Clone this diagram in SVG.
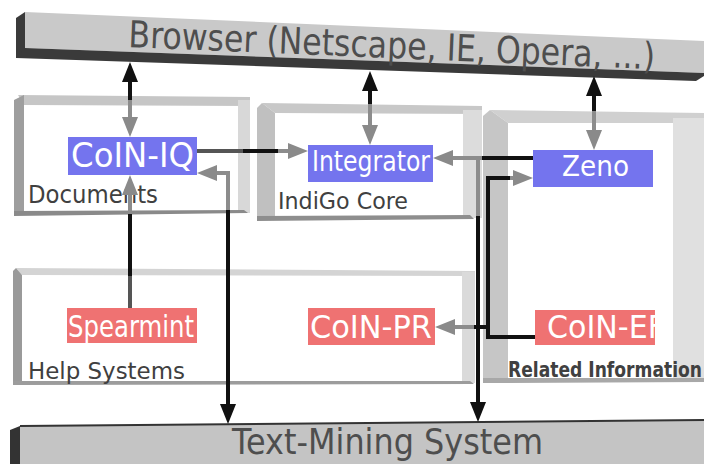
<svg xmlns="http://www.w3.org/2000/svg" width="704" height="464" viewBox="0 0 704 464">
<defs>
<style>
.t{font-family:"DejaVu Sans","Liberation Sans",sans-serif;}
.bar{fill:#4e4e4e;}
.node{fill:#fff;}
.lbl{fill:#404040;}
.blue{fill:#7474ee;}
.red{fill:#ef7272;}
.k{stroke:#111;stroke-width:4;fill:none;}
.g{stroke:#8c8c8c;stroke-width:4;fill:none;}
.d{stroke:#555;stroke-width:4;fill:none;}
</style>
<marker id="ak" markerUnits="userSpaceOnUse" markerWidth="22" markerHeight="18" refX="10" refY="8" orient="auto"><path d="M0,0 L20,8 L0,16 z" fill="#111"/></marker>
<marker id="ag" markerUnits="userSpaceOnUse" markerWidth="22" markerHeight="18" refX="10" refY="8" orient="auto"><path d="M0,0 L20,8 L0,16 z" fill="#8a8a8a"/></marker>
<clipPath id="cef"><rect x="535" y="310" width="120" height="35"/></clipPath>
</defs>
<rect width="704" height="464" fill="#fff"/>

<g id="browser">
<polygon points="25,12 704,41 704,73 25,48" fill="#c9c9c9"/>
<polygon points="16,48 25,48 704,73 704,76 696,81 16,58" fill="#3a3a3a"/>
<polygon points="16,18 25,12 25,48 16,58" fill="#3a3a3a"/>
<text class="t bar" x="128" y="47" font-size="37" textLength="527" lengthAdjust="spacingAndGlyphs" transform="rotate(2.4 128 47)">Browser (Netscape, IE, Opera, ...)</text>
</g>

<g id="textmining">
<polygon points="20,426 704,420 704,464 20,464" fill="#c4c4c4"/>
<polygon points="10,430 20,426 20,464 10,464" fill="#333"/>
<line x1="20" y1="426" x2="704" y2="420" stroke="#333" stroke-width="2"/>
<text class="t bar" x="232" y="454" font-size="35" textLength="311" lengthAdjust="spacingAndGlyphs">Text-Mining System</text>
</g>

<g id="documents">
<polygon points="18,95 250,97 250,106 24,105" fill="#c6c6c6"/>
<rect x="238" y="100" width="12" height="113" fill="#d8d8d8"/>
<polygon points="14,100 24,95 24,212 14,216" fill="#9e9e9e"/>
<polygon points="14,211 244,210 248,213 14,216" fill="#8a8a8a"/>
<text class="t lbl" x="28" y="203" font-size="24" textLength="130" lengthAdjust="spacingAndGlyphs">Documents</text>
</g>

<g id="indigo">
<polygon points="262,103 482,106 482,114 275,113" fill="#c8c8c8"/>
<rect x="463" y="110" width="19" height="108" fill="#dcdcdc"/>
<polygon points="257,108 262,103 275,113 275,216 257,220" fill="#c0c0c0"/>
<polygon points="257,216 470,215 474,219 257,221" fill="#8e8e8e"/>
<text class="t lbl" x="278" y="209" font-size="23" textLength="130" lengthAdjust="spacingAndGlyphs">IndiGo Core</text>
</g>

<g id="related">
<polygon points="490,110 704,113 704,123 508,123" fill="#d0d0d0"/>
<rect x="673" y="118" width="31" height="262" fill="#e0e0e0"/>
<polygon points="483,116 490,110 508,123 508,380 483,382" fill="#c6c6c6"/>
<polygon points="483,378 704,378 704,382 483,383" fill="#a8a8a8"/>
<text class="t lbl" x="508" y="377" font-size="22" font-weight="bold" textLength="194" lengthAdjust="spacingAndGlyphs">Related Information</text>
</g>

<g id="help">
<polygon points="16,268 475,271 475,276 22,275" fill="#d4d4d4"/>
<rect x="462" y="272" width="13" height="111" fill="#dadada"/>
<polygon points="13,271 16,268 22,275 22,382 13,384" fill="#9a9a9a"/>
<polygon points="13,381 470,381 474,384 13,385" fill="#9c9c9c"/>
<text class="t lbl" x="28" y="379" font-size="23" textLength="157" lengthAdjust="spacingAndGlyphs">Help Systems</text>
</g>

<g id="connectors">
<line class="k" x1="130" y1="100" x2="130" y2="72" marker-end="url(#ak)"/>
<line class="g" x1="130" y1="100" x2="130" y2="127" marker-end="url(#ag)"/>
<line class="k" x1="370" y1="104" x2="370" y2="81" marker-end="url(#ak)"/>
<line class="g" x1="370" y1="104" x2="370" y2="135" marker-end="url(#ag)"/>
<line class="k" x1="594" y1="111" x2="594" y2="86" marker-end="url(#ak)"/>
<line class="g" x1="594" y1="111" x2="594" y2="140" marker-end="url(#ag)"/>
<line class="d" x1="197" y1="151" x2="245" y2="151"/>
<line class="k" x1="243" y1="151" x2="280" y2="151"/>
<line class="g" x1="278" y1="151" x2="298" y2="151" marker-end="url(#ag)"/>
<line class="k" x1="533" y1="158" x2="480" y2="158"/>
<line class="g" x1="482" y1="158" x2="443" y2="158" marker-end="url(#ag)"/>
<line class="g" x1="478" y1="158" x2="478" y2="218"/>
<line class="k" x1="478" y1="216" x2="478" y2="412" marker-end="url(#ak)"/>
<polyline class="k" points="535,337 488,337 488,178 512,178"/>
<line class="g" x1="510" y1="178" x2="523" y2="178" marker-end="url(#ag)"/>
<line class="k" x1="488" y1="327" x2="472" y2="327"/>
<line class="g" x1="474" y1="327" x2="445" y2="327" marker-end="url(#ag)"/>
<line class="d" x1="130" y1="308" x2="130" y2="274"/>
<line class="k" x1="130" y1="276" x2="130" y2="212"/>
<line class="g" x1="130" y1="214" x2="130" y2="185" marker-end="url(#ag)"/>
<polyline class="g" points="228,212 228,173 207,173" marker-end="url(#ag)"/>
<line class="k" x1="228" y1="210" x2="228" y2="414" marker-end="url(#ak)"/>
</g>

<g id="coin-iq">
<rect class="blue" x="68" y="137" width="129" height="38"/>
<text class="t node" x="71" y="167" font-size="34" textLength="123" lengthAdjust="spacingAndGlyphs">CoIN-IQ</text>
</g>
<g id="integrator">
<rect class="blue" x="308" y="145" width="125" height="37"/>
<text class="t node" x="312" y="171" font-size="29" textLength="118" lengthAdjust="spacingAndGlyphs">Integrator</text>
</g>
<g id="zeno">
<rect class="blue" x="533" y="150" width="120" height="37"/>
<text class="t node" x="562" y="176" font-size="29" textLength="67" lengthAdjust="spacingAndGlyphs">Zeno</text>
</g>
<g id="spearmint">
<rect class="red" x="67" y="308" width="130" height="35"/>
<text class="t node" x="68" y="337" font-size="30" textLength="126" lengthAdjust="spacingAndGlyphs">Spearmint</text>
</g>
<g id="coin-pr">
<rect class="red" x="308" y="308" width="127" height="37"/>
<text class="t node" x="310" y="338" font-size="32" textLength="122" lengthAdjust="spacingAndGlyphs">CoIN-PR</text>
</g>
<g id="coin-ef">
<rect class="red" x="535" y="310" width="120" height="35"/>
<text class="t node" x="547" y="338" font-size="32" textLength="118" lengthAdjust="spacingAndGlyphs" clip-path="url(#cef)">CoIN-EF</text>
</g>
</svg>
